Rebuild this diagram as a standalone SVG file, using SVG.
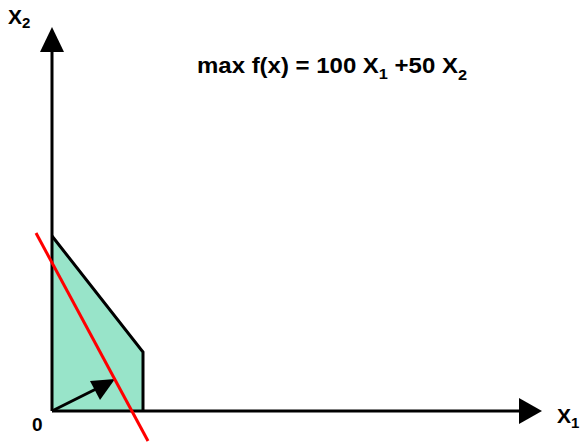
<svg xmlns="http://www.w3.org/2000/svg" width="581" height="442" viewBox="0 0 581 442">
<style>
text{font-family:"Liberation Sans",Arial,sans-serif;font-weight:bold;fill:#000}
.ax{stroke:#000;stroke-width:3;fill:none}
</style>
<rect width="581" height="442" fill="#fff"/>
<g id="region">
<polygon points="52,411 52,236 143,352 143,411" fill="#98E4C9" stroke="none"/>
<polyline points="52,236 143,352 143,411" fill="none" stroke="#000" stroke-width="3"/>
</g>
<g id="connectors">
<line class="ax" x1="52" y1="411" x2="52" y2="50"/>
<polygon points="40,52 64,52 52,27" fill="#000"/>
<line class="ax" x1="52" y1="411" x2="520" y2="411"/>
<polygon points="519,398 519,424 542,411" fill="#000"/>
<line x1="52" y1="411" x2="96" y2="389" stroke="#000" stroke-width="3"/>
<polygon points="90,381 100,400 115,379" fill="#000"/>
<line x1="36" y1="233" x2="148" y2="441" stroke="#FF0000" stroke-width="3"/>
</g>
<g id="labels">
<text x="8" y="24" font-size="21">X<tspan font-size="15" dy="4">2</tspan></text>
<text x="32" y="431" font-size="19">0</text>
<text x="557" y="423" font-size="21">X<tspan font-size="15" dy="5">1</tspan></text>
<text transform="translate(197,73) scale(1.09,1)" x="0" y="0" font-size="22">max f(x) = 100 X<tspan font-size="15" dy="6">1</tspan><tspan dy="-6"> +50 X</tspan><tspan font-size="15" dy="7">2</tspan></text>
</g>
</svg>
